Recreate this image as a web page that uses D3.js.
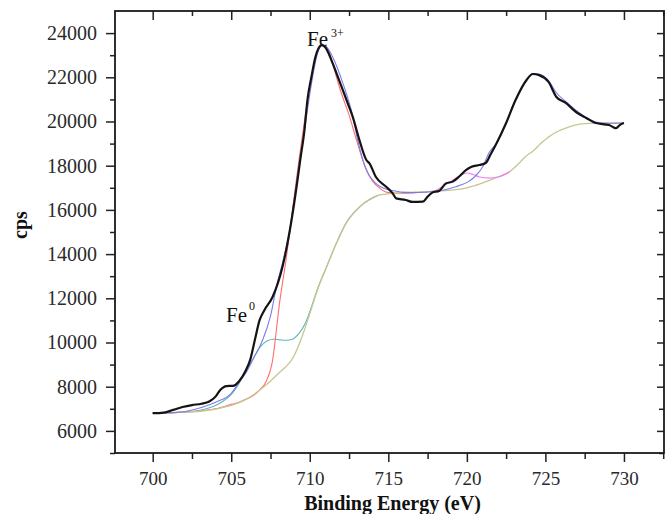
<!DOCTYPE html>
<html>
<head>
<meta charset="utf-8">
<script src="https://cdn.jsdelivr.net/npm/d3@7"></script>
<style>
  body { margin: 0; background: #fff; }
  svg text { font-family: "Liberation Serif", "Times New Roman", serif; }
</style>
</head>
<body>
<div id="chart"></div>
<script>
// ticks
var xTicks = [700, 705, 710, 715, 720, 725, 730]
var xMinor = [702.5, 707.5, 712.5, 717.5, 722.5, 727.5, 732.5]
var yTicks = [6000, 8000, 10000, 12000, 14000, 16000, 18000, 20000, 22000, 24000]
var yMinor = [5000, 7000, 9000, 11000, 13000, 15000, 17000, 19000, 21000, 23000]

// measured spectrum, [eV, cps]
var measured = [[700.0,6800],[700.7,6830],[701.3,6950],[701.9,7080],[702.5,7170],[703.1,7230],
  [703.6,7330],[704.0,7550],[704.3,7850],[704.7,8030],[705.1,8040],[705.5,8250],[705.9,8700],
  [706.2,9200],[706.5,10100],[706.8,11000],[707.1,11450],[707.63,12060],[708.26,13420],
  [708.7,14955],[709.13,16900],[709.4,18300],[709.66,19600],[709.85,20970],[710.1,22000],
  [710.35,22900],[710.55,23300],[710.75,23460],[711.0,23350],[711.25,23000],[711.46,22630],
  [711.8,22000],[712.1,21430],[712.4,20850],[712.73,20220],[713.16,19160],[713.6,18260],
  [713.8,18110],[714.2,17500],[714.86,17050],[715.28,16750],[715.5,16520],[716.1,16450],
  [716.55,16360],[717.2,16370],[717.5,16600],[717.8,16780],[718.25,16870],[718.67,17200],
  [719.1,17280],[719.5,17500],[719.94,17800],[720.3,17950],[720.8,18030],[721.2,18120],
  [721.5,18500],[721.9,19030],[722.5,19930],[723.1,20970],[723.8,21880],[724.2,22150],
  [724.6,22100],[725.2,21790],[725.7,21110],[726.3,20840],[726.95,20430],[727.6,20160],
  [728.2,19930],[729.05,19840],[729.3,19750],[729.5,19700],[729.75,19850],[730.0,19930]]

// shirley background
var background = [[700,6800],[701,6820],[702,6850],[703,6890],[704,6990],[705,7150],[706,7450],
  [707,7950],[708,8600],[709,9400],[709.5,10250],[710,11300],[710.5,12400],[711,13300],
  [711.7,14500],[712.3,15390],[713.2,16150],[714.4,16670],[715.5,16750],[717.6,16830],
  [719.7,16950],[720.5,17100],[721.3,17300],[722,17490],[722.7,17720],[723.3,18100],
  [723.8,18450],[724.2,18650],[724.7,19000],[725.2,19300],[725.8,19560],[726.3,19700],
  [727.3,19890],[728.4,19930],[730,19940]]

// Fe0 component
var fe0 = [[700,6800],[702,6850],[703,6930],[704,7150],[704.5,7350],[705,7650],[705.5,8150],
  [706,8800],[706.5,9400],[706.9,9850],[707.3,10080],[707.7,10150],[708.1,10120],[708.5,10100],
  [708.9,10150],[709.3,10400],[709.7,10850],[710.1,11600],[710.5,12450],[711,13300],
  [711.7,14500],[712.3,15390],[713.2,16150],[714.4,16670]]

// Fe3+ 2p3/2 component
var fe3 = [[700,6800],[702,6850],[703,6900],[704,7000],[705,7200],[705.5,7300],[706,7450],
  [706.4,7600],[706.8,7850],[707.2,8200],[707.6,9070],[708.1,11920],[708.5,13800],[708.9,16000],
  [709.3,18200],[709.7,20200],[710.0,21600],[710.3,22700],[710.5,23200],[710.85,23460],
  [711.2,23200],[711.5,22500],[712,21300],[712.5,20300],[713,19100],[713.5,18000],[714,17300],
  [714.5,16950],[715,16780],[716,16750],[717,16800],[718,16850]]

// fit sum
var fitSum = [[700,6800],[701,6820],[702,6870],[703.2,7080],[704,7300],[705,7700],[705.5,8200],
  [706,8700],[706.5,9400],[707,10110],[707.5,11200],[707.9,12600],[708.3,13700],[708.7,15000],
  [709.1,16900],[709.4,18400],[709.7,19800],[709.95,21000],[710.25,22300],[710.5,23100],
  [710.8,23450],[711.1,23350],[711.5,22850],[712.1,21750],[712.7,20350],[713.05,19160],
  [713.6,17800],[714.2,17200],[715.07,16900],[716.5,16780],[718.25,16870],[719.3,17050],
  [720.1,17280],[720.5,17500],[721,17940],[721.4,18570],[721.9,19030],[722.5,19930],
  [723.1,20970],[723.8,21880],[724.2,22170],[724.6,22150],[725.2,21850],[725.7,21300],
  [726.3,20900],[727,20480],[727.6,20180],[728.2,19980],[729,19920],[730,19930]]

// satellite component
var satellite = [[718.0,16870],[718.4,17040],[718.9,17250],[719.3,17440],[719.7,17600],
  [720.0,17670],[720.4,17600],[720.8,17490],[721.4,17440],[722.0,17490],[722.7,17720]]

var width = 668, height = 514
var margin = {top: 11, right: 4, bottom: 61, left: 115}
var w = width - margin.left - margin.right
var h = height - margin.top - margin.bottom

var svg = d3.select("#chart").append("svg").attr("width", width).attr("height", height)
var g = svg.append("g").attr("transform", "translate(" + margin.left + "," + margin.top + ")")

var x = d3.scaleLinear().domain([697.6, 732.55]).range([0, w])
var y = d3.scaleLinear().domain([5000, 25000]).range([h, 0])

var line = d3.line()
  .x(function(d){ return x(d[0]) })
  .y(function(d){ return y(d[1]) })
  .curve(d3.curveMonotoneX)

function drawSeries(data, color, sw){
  g.append("path").datum(data)
    .attr("fill", "none")
    .attr("stroke", color)
    .attr("stroke-width", sw)
    .attr("stroke-linejoin", "round")
    .attr("d", line)
}

drawSeries(fe0, "#5cb8b2", 1.1)
drawSeries(fe3, "#ff6e6e", 1.1)
drawSeries(background, "#c7c690", 1.3)
drawSeries(satellite, "#f080f0", 1.2)
drawSeries(fitSum, "#7b7bf0", 1.1)
drawSeries(measured, "#141414", 2.2)

// axes
function styleAxis(sel, size){
  sel.select(".domain").remove()
  sel.selectAll(".tick line").attr("stroke", "#222").attr("stroke-width", 1.5)
  sel.selectAll("text").attr("fill", "#2a2a2a").style("font-size", size)
}

var axBottom = g.append("g").attr("transform", "translate(0," + h + ")")
  .call(d3.axisBottom(x).tickValues(xTicks).tickSize(9).tickPadding(10).tickFormat(d3.format("d")))
styleAxis(axBottom, "19px")
var axBottomMinor = g.append("g").attr("transform", "translate(0," + h + ")")
  .call(d3.axisBottom(x).tickValues(xMinor).tickSize(6).tickFormat(""))
styleAxis(axBottomMinor, "0px")

var axTop = g.append("g")
  .call(d3.axisBottom(x).tickValues(xTicks).tickSize(9).tickFormat(""))
styleAxis(axTop, "0px")
var axTopMinor = g.append("g")
  .call(d3.axisBottom(x).tickValues(xMinor).tickSize(5).tickFormat(""))
styleAxis(axTopMinor, "0px")

var axLeft = g.append("g")
  .call(d3.axisLeft(y).tickValues(yTicks).tickSize(9).tickPadding(9).tickFormat(d3.format("d")))
styleAxis(axLeft, "20px")
var axLeftMinor = g.append("g")
  .call(d3.axisLeft(y).tickValues(yMinor).tickSize(5).tickFormat(""))
styleAxis(axLeftMinor, "0px")

var axRight = g.append("g").attr("transform", "translate(" + w + ",0)")
  .call(d3.axisRight(y).tickValues(yTicks).tickSize(-7).tickFormat(""))
styleAxis(axRight, "0px")
var axRightMinor = g.append("g").attr("transform", "translate(" + w + ",0)")
  .call(d3.axisRight(y).tickValues(yMinor).tickSize(-5).tickFormat(""))
styleAxis(axRightMinor, "0px")

// frame
g.append("rect").attr("width", w).attr("height", h)
  .attr("fill", "none").attr("stroke", "#1a1a1a").attr("stroke-width", 1.8)

// titles
svg.append("text")
  .attr("x", margin.left + w / 2 + 3).attr("y", 510)
  .attr("text-anchor", "middle")
  .style("font-size", "20px").style("font-weight", "bold").attr("fill", "#111")
  .text("Binding Energy (eV)")

svg.append("text")
  .attr("transform", "translate(27," + (margin.top + h / 2 - 7) + ") rotate(-90)")
  .attr("text-anchor", "middle")
  .style("font-size", "20px").style("font-weight", "bold").attr("fill", "#111")
  .text("cps")

// peak labels
var fe3Label = svg.append("text").attr("x", 307).attr("y", 46).style("font-size", "21px").attr("fill", "#111")
fe3Label.append("tspan").text("Fe")
fe3Label.append("tspan").attr("dx", 3).attr("dy", -9).style("font-size", "12px").text("3+")

var fe0Label = svg.append("text").attr("x", 226).attr("y", 322).style("font-size", "21px").attr("fill", "#111")
fe0Label.append("tspan").text("Fe")
fe0Label.append("tspan").attr("dx", 2).attr("dy", -12).style("font-size", "12px").text("0")
</script>
</body>
</html>
